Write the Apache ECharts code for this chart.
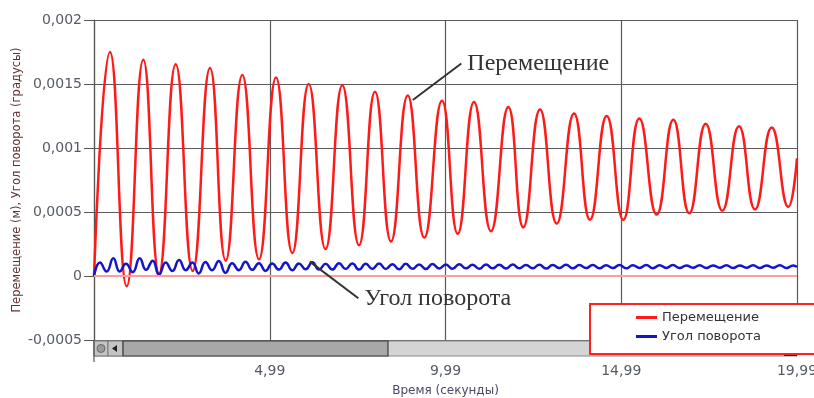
<!DOCTYPE html>
<html>
<head>
<meta charset="UTF-8">
<title>Перемещение и угол поворота</title>
<script src="https://cdn.jsdelivr.net/npm/echarts@6/dist/echarts.min.js"></script>
<style>
html, body { margin: 0; padding: 0; background: #fff; }
#main { width: 814px; height: 398px; }
</style>
</head>
<body>
<div id="main"></div>
<script>
var seriesNames = ['Перемещение', 'Угол поворота'];
var xTickLabels = ['', '4,99', '9,99', '14,99', '19,99'];

// Перемещение: peaks and troughs, [time, m]
var moveData = [
  [0, 0],
  [0.455, 0.00175], [0.930, -0.00008],
  [1.403, 0.00169], [1.849, 0.00002],
  [2.324, 0.001655], [2.808, 0.00004],
  [3.300, 0.001625], [3.747, 0.00012],
  [4.219, 0.00157], [4.694, 0.00013],
  [5.178, 0.00155], [5.642, 0.00018],
  [6.108, 0.0015], [6.586, 0.00021],
  [7.064, 0.00149], [7.539, 0.00024],
  [7.994, 0.00144], [8.450, 0.00027],
  [8.925, 0.00141], [9.397, 0.0003],
  [9.900, 0.00137], [10.347, 0.00033],
  [10.811, 0.00136], [11.294, 0.00035],
  [11.787, 0.00132], [12.213, 0.00038],
  [12.688, 0.0013], [13.164, 0.00041],
  [13.656, 0.00127], [14.111, 0.00044],
  [14.586, 0.00125], [15.058, 0.00044],
  [15.514, 0.00123], [16.008, 0.00048],
  [16.481, 0.00122], [16.936, 0.00049],
  [17.403, 0.00119], [17.875, 0.00051],
  [18.350, 0.00117], [18.805, 0.00052],
  [19.280, 0.00116], [19.752, 0.00054],
  [20.0, 0.00092]
];

// Угол поворота: small wiggle near zero, [time, value]
var angleData = [
  [0, 0], [0.17, 0.000105], [0.36, 0.000035], [0.55, 0.000138], [0.73, 0.000035],
  [0.91, 0.000095], [1.10, 0.00003], [1.30, 0.000138], [1.48, 0.000048], [1.67, 0.00012],
  [1.85, 0.00001], [2.04, 0.000105], [2.23, 0.00004], [2.42, 0.000125], [2.61, 0.000045],
  [2.80, 0.000105], [2.98, 0.00002], [3.17, 0.00011], [3.36, 0.000045], [3.55, 0.000118],
  [3.74, 0.000025], [3.93, 0.0001], [4.12, 0.000045], [4.31, 0.000112], [4.50, 0.000048],
  [4.69, 0.0001], [4.88, 0.00004], [5.07, 0.000098], [5.26, 0.00005], [5.45, 0.000105],
  [5.64, 0.000045], [5.83, 0.000098], [6.02, 0.000052], [6.21, 0.000108], [6.40, 0.00005],
  [6.59, 0.000095], [6.78, 0.00005], [6.97, 0.0001], [7.16, 0.000055], [7.35, 0.000098],
  [7.54, 0.00005], [7.73, 0.000095], [7.92, 0.000055], [8.11, 0.000098], [8.30, 0.000055],
  [8.49, 0.000092], [8.68, 0.000052], [8.87, 0.000095], [9.06, 0.000056], [9.25, 0.00009],
  [9.44, 0.000055], [9.63, 0.000094], [9.82, 0.000058], [10.01, 0.00009], [10.20, 0.000056],
  [10.39, 0.000092], [10.58, 0.00006], [10.77, 0.000088], [10.96, 0.000056], [11.15, 0.00009],
  [11.34, 0.00006], [11.53, 0.000088], [11.72, 0.000058], [11.91, 0.00009], [12.10, 0.00006],
  [12.29, 0.000086], [12.48, 0.00006], [12.67, 0.000088], [12.86, 0.000058], [13.05, 0.000086],
  [13.24, 0.000062], [13.43, 0.000088], [13.62, 0.00006], [13.81, 0.000085], [14.00, 0.000062],
  [14.19, 0.000086], [14.38, 0.00006], [14.57, 0.000084], [14.76, 0.000062], [14.95, 0.000086],
  [15.14, 0.00006], [15.33, 0.000084], [15.52, 0.000063], [15.71, 0.000085], [15.90, 0.000061],
  [16.09, 0.000084], [16.28, 0.000063], [16.47, 0.000085], [16.66, 0.000062], [16.85, 0.000083],
  [17.04, 0.000064], [17.23, 0.000084], [17.42, 0.000062], [17.61, 0.000083], [17.80, 0.000064],
  [17.99, 0.000084], [18.18, 0.000062], [18.37, 0.000083], [18.56, 0.000064], [18.75, 0.000084],
  [18.94, 0.000062], [19.13, 0.000083], [19.32, 0.000064], [19.51, 0.000084], [19.70, 0.000062],
  [19.89, 0.000083], [20.0, 0.00007]
];

// callouts: arrow tip on the curve, elbow where the label starts
var notes = [
  { text: 'Перемещение', tip: [9.07, 0.001375], elbow: [10.45, 0.00166] },
  { text: 'Угол поворота', tip: [6.14, 0.000112], elbow: [7.52, -0.000174] }
];

var myChart = echarts.init(document.getElementById('main'));

function fmtNum(v) {
  return String(+v.toFixed(6)).replace('.', ',');
}

var option = {
  backgroundColor: '#fff',
  animation: false,
  grid: { left: 94, top: 20, right: 17, bottom: 58, containLabel: false, outerBoundsMode: 'none' },
  legend: {
    data: seriesNames,
    orient: 'vertical',
    left: 590,
    top: 304,
    backgroundColor: '#fff',
    borderColor: '#ff2020',
    borderWidth: 2,
    padding: [7, 58, 11, 46],
    icon: 'rect',
    itemWidth: 21,
    itemHeight: 3,
    itemGap: 6,
    textStyle: { fontFamily: 'DejaVu Sans', fontSize: 13, color: '#333' }
  },
  xAxis: {
    type: 'value',
    min: 0,
    max: 20,
    interval: 5,
    offset: 17,
    name: 'Время (секунды)',
    nameLocation: 'middle',
    nameGap: 28,
    nameMoveOverlap: false,
    nameTextStyle: { fontFamily: 'DejaVu Sans', fontSize: 12, color: '#4a4a66' },
    axisLine: { lineStyle: { color: '#555', width: 1 } },
    axisTick: { length: 5, lineStyle: { color: '#555' } },
    axisLabel: {
      margin: 7,
      fontFamily: 'DejaVu Sans',
      fontSize: 14,
      color: '#555a66',
      formatter: function (v) { return xTickLabels[Math.round(v / 5)]; }
    },
    splitLine: { show: true, lineStyle: { color: '#5a5a5a', width: 1.2 } }
  },
  yAxis: {
    type: 'value',
    min: -0.0005,
    max: 0.002,
    interval: 0.0005,
    name: 'Перемещение (м), Угол поворота (градусы)',
    nameLocation: 'middle',
    nameGap: 71,
    nameMoveOverlap: false,
    nameTextStyle: { fontFamily: 'DejaVu Sans', fontSize: 11.5, color: '#5e3030' },
    axisLine: { show: true, lineStyle: { color: '#555', width: 1.2 } },
    axisTick: { show: true, length: 10, lineStyle: { color: '#555' } },
    axisLabel: {
      margin: 12,
      fontFamily: 'DejaVu Sans',
      fontSize: 14,
      color: '#555a66',
      formatter: fmtNum
    },
    splitLine: { show: true, lineStyle: { color: '#5a5a5a', width: 1.2 } }
  },
  series: [{
    name: seriesNames[0],
    type: 'line',
    data: moveData,
    smooth: 0.5,
    showSymbol: false,
    itemStyle: { color: '#ff1a1a' },
    lineStyle: { color: '#ff1a1a', width: 2.5 },
    markLine: {
      silent: true,
      symbol: ['none', 'none'],
      label: { show: false },
      lineStyle: { color: '#ff9c9c', width: 2, type: 'solid' },
      data: [{ yAxis: 0 }]
    }
  }, {
    name: seriesNames[1],
    type: 'line',
    data: angleData,
    smooth: 0.5,
    showSymbol: false,
    itemStyle: { color: '#1414c8' },
    lineStyle: { color: '#1414c8', width: 2.5 }
  }]
};
myChart.setOption(option);

// scroll bar under the plot, axis line extension and the two callouts
var p0 = myChart.convertToPixel({ gridIndex: 0 }, [0, -0.0005]);
var p1 = myChart.convertToPixel({ gridIndex: 0 }, [20, -0.0005]);
var sx = p0[0], sy = p0[1] + 1, sw = p1[0] - p0[0], sh = 15;
var g = [];
g.push({ type: 'rect', z: 3, shape: { x: sx, y: sy, width: sw, height: sh }, style: { fill: '#d4d4d4', stroke: '#8a8a8a', lineWidth: 1 } });
g.push({ type: 'rect', z: 3, shape: { x: sx, y: sy, width: 14, height: sh }, style: { fill: '#c4c4c4', stroke: '#777' } });
g.push({ type: 'circle', z: 3, shape: { cx: sx + 7, cy: sy + sh / 2, r: 4 }, style: { fill: '#9a9a9a', stroke: '#666' } });
g.push({ type: 'rect', z: 3, shape: { x: sx + 14, y: sy, width: 15, height: sh }, style: { fill: '#c4c4c4', stroke: '#777' } });
g.push({ type: 'polygon', z: 3, shape: { points: [[sx + 18, sy + sh / 2], [sx + 23, sy + sh / 2 - 3.5], [sx + 23, sy + sh / 2 + 3.5]] }, style: { fill: '#222' } });
g.push({ type: 'rect', z: 3, shape: { x: sx + 29, y: sy, width: 265, height: sh }, style: { fill: '#a8a8a8', stroke: '#3c3c3c', lineWidth: 1.2 } });
g.push({ type: 'rect', z: 3, shape: { x: sx + sw - 13, y: sy + sh - 3, width: 13, height: 3 }, style: { fill: '#111' } });
g.push({ type: 'line', z: 3, shape: { x1: sx, y1: p0[1], x2: sx, y2: p0[1] + 22 }, style: { stroke: '#555', lineWidth: 1.2 } });

notes.forEach(function (n) {
  var a = myChart.convertToPixel({ gridIndex: 0 }, n.tip);
  var b = myChart.convertToPixel({ gridIndex: 0 }, n.elbow);
  g.push({ type: 'line', z: 6, shape: { x1: a[0], y1: a[1], x2: b[0], y2: b[1] }, style: { stroke: '#333', lineWidth: 2 } });
  g.push({
    type: 'text', z: 6, x: b[0] + 6, y: b[1],
    style: { text: n.text, fill: '#333', font: '24px "Liberation Serif"', textVerticalAlign: 'middle' }
  });
});

myChart.setOption({ graphic: g });
</script>
</body>
</html>
